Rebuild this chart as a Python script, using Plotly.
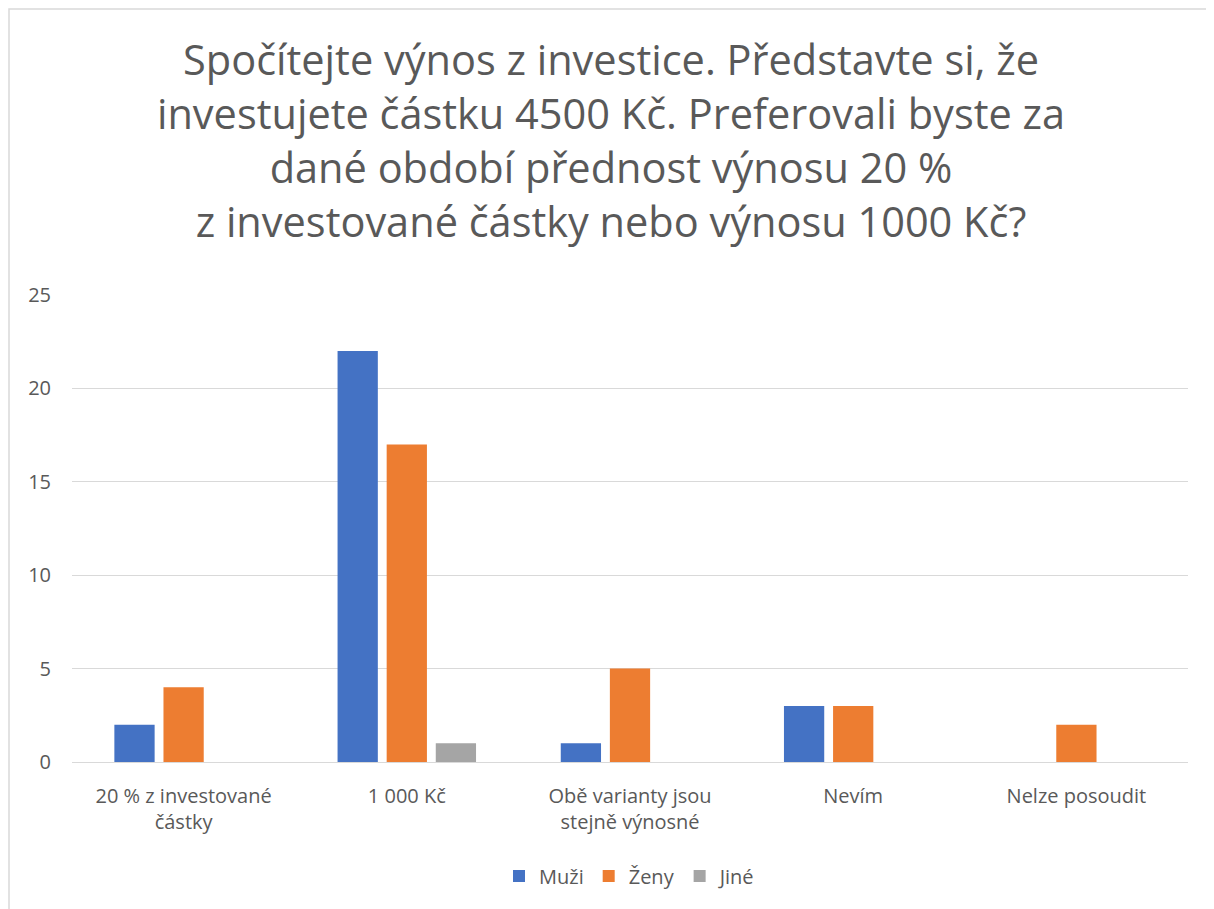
import plotly.graph_objects as go

categories = ["20 % z investované<br>částky", "1 000 Kč", "Obě varianty jsou<br>stejně výnosné", "Nevím", "Nelze posoudit"]
muzi = [2, 22, 1, 3, 0]
zeny = [4, 17, 5, 3, 2]
jine = [0, 1, 0, 0, 0]
series_names = ["Muži", "Ženy", "Jiné"]
colors = ["#4472C4", "#ED7D31", "#A5A5A5"]

title_text = ("Spočítejte výnos z investice. Představte si, že<br>"
              "investujete částku 4500 Kč. Preferovali byste za<br>"
              "dané období přednost výnosu 20 %<br>"
              "z investované částky nebo výnosu 1000 Kč?")

FONT = "Open Sans"
W, H = 1206, 901
L, R, T, B = 64, 26, 287, 147
PW, PH = W - L - R, H - T - B

fig = go.Figure()
for name, vals, col in zip(series_names, [muzi, zeny, jine], colors):
    fig.add_trace(go.Bar(name=name, x=categories, y=vals, marker_color=col,
                         marker_line_width=0))

fig.update_layout(
    width=W, height=H,
    paper_bgcolor="white", plot_bgcolor="white",
    font=dict(family=FONT, color="#595959", size=20),
    title=dict(text=title_text, x=0.5, xanchor="center", y=1 - 67/H, yanchor="top",
               font=dict(family=FONT, size=41.5, color="#595959")),
    margin=dict(l=L, r=R, t=T, b=B),
    barmode="group", bargap=0.34, bargroupgap=0.18,
    legend=dict(orientation="h", x=0.5, xanchor="center", y=-(868 - 754) / PH, yanchor="middle",
                font=dict(size=20, color="#595959"), traceorder="normal"),
    showlegend=True,
)
fig.update_yaxes(range=[0, 25], dtick=5, showgrid=True, gridcolor="#D9D9D9", gridwidth=1,
                 zeroline=True, zerolinecolor="#D9D9D9", zerolinewidth=1,
                 showline=False, ticks="", ticklabelstandoff=20,
                 tickfont=dict(size=20, color="#595959"))
fig.update_xaxes(showline=False, ticks="", tickfont=dict(size=20, color="#595959"),
                 ticklabelstandoff=20)
fig.add_shape(type="rect", xref="paper", yref="paper",
              x0=(1 - L) / PW, x1=1.2, y0=-0.5, y1=1 + (T - 1) / PH,
              line=dict(color="#D9D9D9", width=1.5), fillcolor="rgba(0,0,0,0)", layer="below")

fig.write_html("out.html")
